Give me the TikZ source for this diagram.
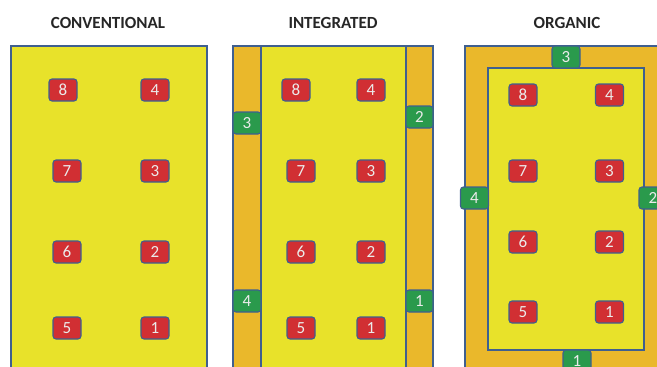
\documentclass[tikz,border=0pt]{standalone}
\usepackage{fontspec}
\setmainfont{Carlito}
\definecolor{yel}{HTML}{E8E22A}
\definecolor{org}{HTML}{EAB82B}
\definecolor{redb}{HTML}{D12F33}
\definecolor{grnb}{HTML}{2A9A4C}
\definecolor{edge}{HTML}{3F5F8F}
\tikzset{
  title/.style={font=\fontsize{17}{19}\selectfont\bfseries, text=black!85},
  field/.style={draw=edge, line width=1.2pt, fill=yel},
  strip/.style={draw=edge, line width=1.2pt, fill=org},
  plant/.style={draw=edge, line width=1.1pt, rounded corners=3pt, minimum width=28pt, minimum height=22pt, inner sep=0pt, text=white!92!black, font=\fontsize{17}{17}\selectfont},
  redbox/.style={plant, fill=redb},
  grnbox/.style={plant, fill=grnb},
}
\begin{document}
\begin{tikzpicture}[x=1pt,y=-1pt]
\useasboundingbox (0,0) rectangle (657,367);
\begin{scope}
\clip (0,0) rectangle (657,367);
% titles
\node[title] (t1) at (108,23) {CONVENTIONAL};
\node[title] (t2) at (333,23) {INTEGRATED};
\node[title] (t3) at (567,23) {ORGANIC};
% conventional
\path[field] (11,46) rectangle (207,380);
\node[redbox] (c8) at (63,90) {8};
\node[redbox] (c4) at (155,90) {4};
\node[redbox] (c7) at (67,171) {7};
\node[redbox] (c3) at (155,171) {3};
\node[redbox] (c6) at (67,252) {6};
\node[redbox] (c2) at (155,252) {2};
\node[redbox] (c5) at (67,328) {5};
\node[redbox] (c1) at (155,328) {1};
% integrated
\path[strip] (233,46) rectangle (433,380);
\path[field] (261,46) rectangle (406,380);
\node[grnbox, minimum width=28pt] (i3) at (247,123) {3};
\node[grnbox, minimum width=27pt] (i2) at (419.5,117) {2};
\node[grnbox, minimum width=28pt] (i4) at (247,301) {4};
\node[grnbox, minimum width=27pt] (i1) at (419.5,301) {1};
\node[redbox] (n8) at (296,90) {8};
\node[redbox] (n4) at (371,90) {4};
\node[redbox] (n7) at (301,171) {7};
\node[redbox] (n3) at (371,171) {3};
\node[redbox] (n6) at (301,252) {6};
\node[redbox] (n2) at (371,252) {2};
\node[redbox] (n5) at (301,328) {5};
\node[redbox] (n1) at (371,328) {1};
% organic
\path[strip] (465,46) rectangle (667,390);
\path[field] (488,68) rectangle (644,350);
\node[grnbox] (o3) at (566,57) {3};
\node[grnbox] (o4) at (474.5,198) {4};
\node[grnbox] (o2) at (653,198) {2};
\node[grnbox] (o1) at (577,361) {1};
\node[redbox] (g8) at (523,95) {8};
\node[redbox] (g4) at (609.5,95) {4};
\node[redbox] (g7) at (523,171) {7};
\node[redbox] (g3) at (609.5,171) {3};
\node[redbox] (g6) at (523,242) {6};
\node[redbox] (g2) at (609.5,242) {2};
\node[redbox] (g5) at (523,312) {5};
\node[redbox] (g1) at (609.5,312) {1};
\end{scope}
\end{tikzpicture}
\end{document}
